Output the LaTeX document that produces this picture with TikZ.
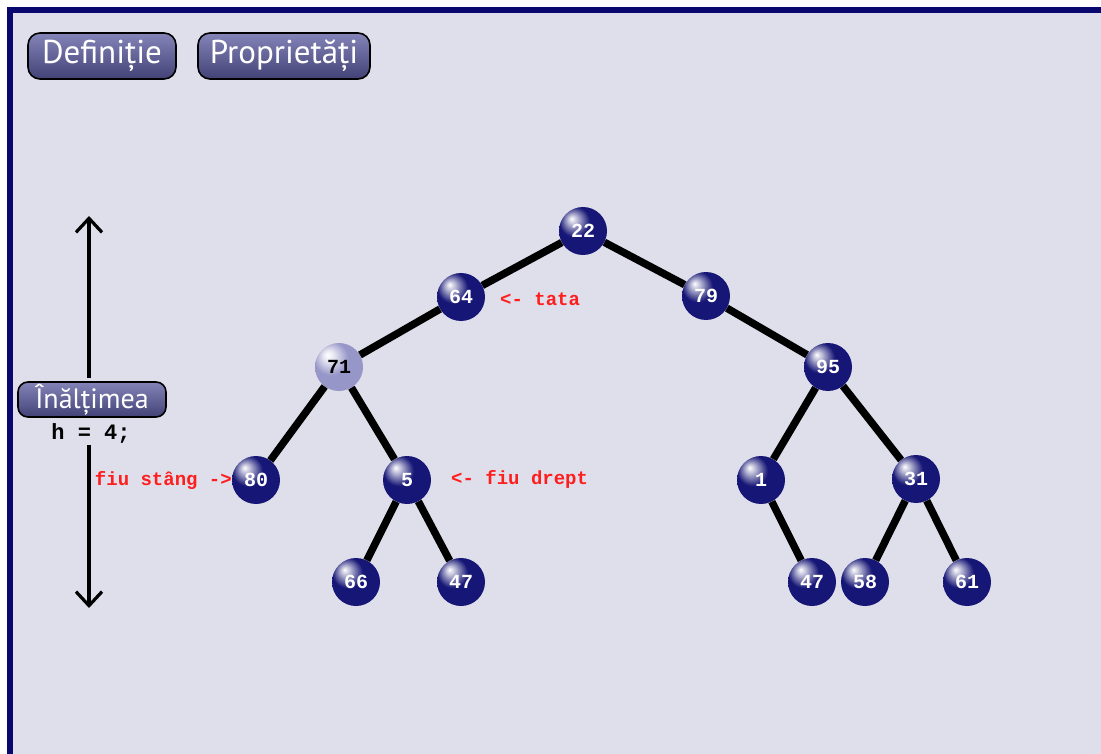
\documentclass[tikz,border=0pt]{standalone}
\usepackage{fontspec}
\setmainfont{PT Sans}
\newfontfamily\codefont{Liberation Mono}
\usetikzlibrary{arrows.meta,shadings}

\definecolor{pagebg}{RGB}{223,223,235}
\definecolor{frameblue}{RGB}{8,8,110}
\definecolor{ballblue}{RGB}{22,22,118}
\definecolor{balledge}{RGB}{10,10,85}
\definecolor{balllight}{RGB}{150,150,200}
\definecolor{balllightedge}{RGB}{118,118,168}
\definecolor{btntop}{RGB}{132,132,184}
\definecolor{btnbot}{RGB}{66,66,118}
\definecolor{notered}{RGB}{255,30,30}

% glossy spheres: white highlight towards the upper left
\pgfdeclareradialshading{navyball}{\pgfqpoint{-12bp}{13bp}}{%
  color(0bp)=(white); color(5bp)=(white!70!ballblue);
  color(16bp)=(ballblue); color(40bp)=(ballblue);
  color(62bp)=(balledge)}
\pgfdeclareradialshading{lightball}{\pgfqpoint{-12bp}{13bp}}{%
  color(0bp)=(white); color(6bp)=(white!75!balllight);
  color(18bp)=(balllight); color(40bp)=(balllight);
  color(62bp)=(balllightedge)}

\tikzset{
  ball/.style={circle, minimum size=48pt, inner sep=0pt, shading=navyball,
    text=white, font=\codefont\bfseries\fontsize{20}{20}\selectfont},
  ballsel/.style={ball, shading=lightball, text=black},
  link/.style={line width=7.5pt, black},
  button/.style={draw=black, line width=1.6pt, rounded corners=12pt,
    top color=btntop, bottom color=btnbot, text=white, inner sep=0pt},
  note/.style={text=notered, font=\codefont\bfseries\fontsize{19}{19}\selectfont,
    inner sep=0pt},
  harrow/.style={line width=3.6pt, black,
    -{Straight Barb[length=14pt,width=26pt,line width=3.2pt]}}
}

\begin{document}
\begin{tikzpicture}[x=1pt,y=-1pt]
  \useasboundingbox (0,0) rectangle (1101,754);
  \clip (0,0) rectangle (1101,754);
  \fill[white] (0,0) rectangle (1101,754);
  % page panel with its navy frame
  \draw[frameblue, line width=6pt, fill=pagebg] (10,10) rectangle (1130,790);

  % buttons
  \node[button, minimum width=148pt, minimum height=46pt,
        font=\fontsize{33}{33}\selectfont] (def) at (102,56) {Definiție};
  \node[button, minimum width=172pt, minimum height=46pt,
        font=\fontsize{33}{33}\selectfont] (prop) at (284,56) {Proprietăți};

  % height indicator
  \node[button, rounded corners=10pt, minimum width=148pt, minimum height=35pt,
        font=\fontsize{28}{28}\selectfont] (inal) at (92,399.5) {Înălțimea};
  \node[font=\codefont\bfseries\fontsize{22}{22}\selectfont, inner sep=0pt]
        (hval) at (91,433) {h = 4;};
  \coordinate (htop) at (89,216);
  \coordinate (hbot) at (89,608);
  \coordinate (hup) at (89,378);
  \coordinate (hdown) at (89,445);
  \draw[harrow] (hup) -- (htop);
  \draw[harrow] (hdown) -- (hbot);

  % tree nodes
  \node[ball] (n22) at (583,231) {22};
  \node[ball] (n64) at (461,297) {64};
  \node[ball] (n79) at (706,296) {79};
  \node[ballsel] (n71) at (339,367) {71};
  \node[ball] (n95) at (828,367) {95};
  \node[ball] (n80) at (256,480) {80};
  \node[ball] (n5) at (407,480) {5};
  \node[ball] (n1) at (761,480) {1};
  \node[ball] (n31) at (916,479) {31};
  \node[ball] (n66) at (356,582) {66};
  \node[ball] (n47a) at (461,582) {47};
  \node[ball] (n47b) at (812,582) {47};
  \node[ball] (n58) at (865,582) {58};
  \node[ball] (n61) at (967,582) {61};

  % tree edges
  \draw[link] (n22) -- (n64);
  \draw[link] (n22) -- (n79);
  \draw[link] (n64) -- (n71);
  \draw[link] (n79) -- (n95);
  \draw[link] (n71) -- (n80);
  \draw[link] (n71) -- (n5);
  \draw[link] (n95) -- (n1);
  \draw[link] (n95) -- (n31);
  \draw[link] (n5) -- (n66);
  \draw[link] (n5) -- (n47a);
  \draw[link] (n1) -- (n47b);
  \draw[link] (n31) -- (n58);
  \draw[link] (n31) -- (n61);

  % annotations
  \node[note, anchor=west] (tata) at (500,299) {<- tata};
  \node[note, anchor=east] (stang) at (232,480) {fiu stâng ->};
  \node[note, anchor=west] (drept) at (451,479) {<- fiu drept};
\end{tikzpicture}
\end{document}
